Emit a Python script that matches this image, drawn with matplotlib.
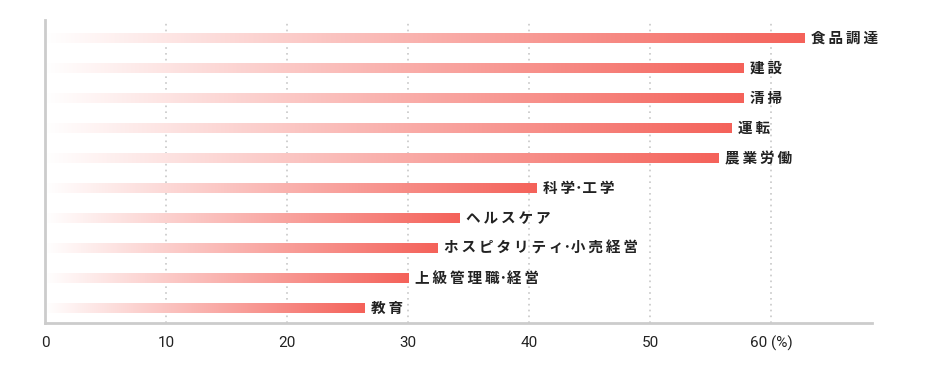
import matplotlib.pyplot as plt
import numpy as np
from matplotlib.colors import LinearSegmentedColormap
from matplotlib import font_manager

categories = ["食品調達", "建設", "清掃", "運転", "農業労働",
              "科学・工学", "ヘルスケア", "ホスピタリティ・小売経営",
              "上級管理職・経営", "教育"]
values = [62.7, 57.7, 57.7, 56.7, 55.6, 40.6, 34.2, 32.4, 30.0, 26.4]
xticks = [0, 10, 20, 30, 40, 50, 60]
xticklabels = ["0", "10", "20", "30", "40", "50", "60 (%)"]

names = {f.name for f in font_manager.fontManager.ttflist}
tick_font = "Liberation Sans Narrow" if "Liberation Sans Narrow" in names else "Roboto"


def spaced(label):
    # letter spacing between characters, but a tight half-width middle dot
    parts = label.split("・")
    return "\uff65".join("\u2009".join(p) for p in parts)


fig = plt.figure(figsize=(9.28, 3.68), dpi=100)
ax = fig.add_axes([0.0485, 0.122, 0.891, 0.824])

cmap = LinearSegmentedColormap.from_list("fade", ["#ffffff", "#f4625a"])
grad = np.linspace(0, 1, 256).reshape(1, -1)
bar_h = 0.33

for i, (cat, v) in enumerate(zip(categories, values)):
    ax.imshow(grad, cmap=cmap, aspect="auto", interpolation="bilinear",
              extent=(0, v, i + bar_h / 2, i - bar_h / 2), zorder=2)
    ax.text(v + 0.55, i, spaced(cat), va="center", ha="left", fontsize=10.5,
            fontweight="bold", color="#222222",
            family=["Noto Sans CJK JP", "DejaVu Sans"])

for x in xticks[1:]:
    ax.axvline(x, color="#c8c8c8", linestyle=(0, (1, 2.5)), linewidth=1.2, zorder=1)

ax.set_xlim(0, 68.3)
ax.set_ylim(9.5, -0.6)
ax.set_xticks(xticks)
ax.set_xticklabels(xticklabels, fontsize=11, family=tick_font, color="#222222")
ax.tick_params(axis="x", length=0, pad=9)
ax.set_yticks([])
for side in ["top", "right"]:
    ax.spines[side].set_visible(False)
for side in ["left", "bottom"]:
    ax.spines[side].set_color("#cccccc")
    ax.spines[side].set_linewidth(2)

fig.savefig("out.png", dpi=100)
